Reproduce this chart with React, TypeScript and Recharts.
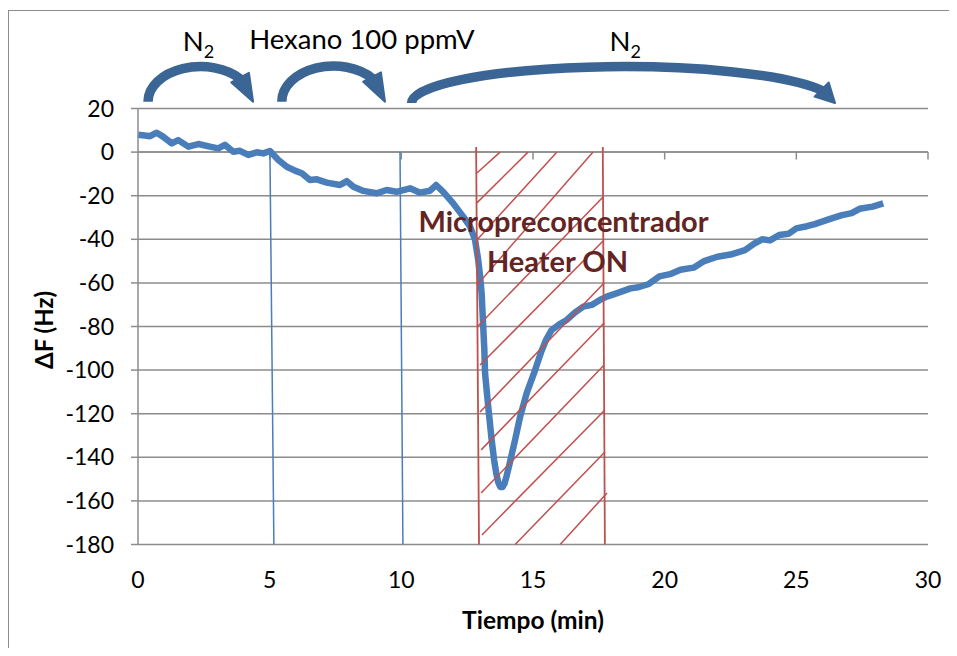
import { LineChart, Line, XAxis, YAxis, CartesianGrid, ReferenceLine, ReferenceDot } from 'recharts'

const FONT = 'Lato, "Open Sans", sans-serif'
const GRID = '#8c8c8c'
const BLUE = '#4a7ebb'
const RED = '#c0504d'
const ARROW = '#3a6594'
const DARK_RED = '#632523'

// sensor response, time in min, ΔF in Hz
const tiempo = [
  0, 0.25, 0.46, 0.71, 0.95, 1.28, 1.53, 1.91, 2.29, 2.73, 3.05, 3.3, 3.62, 3.87, 4.19, 4.51, 4.76, 5.01,
  5.33, 5.65, 5.96, 6.22, 6.53, 6.79, 7.17, 7.67, 7.93, 8.18, 8.56, 9.06, 9.44, 9.82, 10.33, 10.71, 11.09,
  11.32, 11.59, 11.97, 12.35, 12.61, 12.8, 12.92, 13.0, 13.05, 13.11, 13.15, 13.18, 13.3, 13.43, 13.52,
  13.6, 13.68, 13.76, 13.84, 13.92, 14.0, 14.1, 14.32, 14.51, 14.76, 15.08, 15.3, 15.5, 15.71, 16.0, 16.28, 16.6,
  16.91, 17.23, 17.54, 17.8, 18.17, 18.7, 19.0, 19.4, 19.8, 20.2, 20.6, 21.1, 21.5, 22.0, 22.5, 23.05,
  23.4, 23.7, 24.0, 24.35, 24.7, 25.0, 25.4, 25.7, 26.2, 26.7, 27.1, 27.4, 27.9, 28.3,
]
const deltaF = [
  8.0, 7.6, 7.3, 8.9, 7.1, 4.0, 5.5, 2.5, 3.7, 2.5, 1.7, 3.3, 0.2, 0.6, -1.3, -0.1, -0.6, 0.5,
  -3.6, -6.7, -8.5, -9.7, -12.8, -12.5, -14.0, -15.1, -13.3, -15.9, -17.8, -18.9, -17.4, -18.2, -16.6, -18.6, -17.7,
  -15.1, -18.2, -23.5, -29.6, -34.2, -40.3, -49.5, -58, -65, -80, -90, -101.5, -116.8, -132, -141,
  -147, -151.5, -153.6, -153.6, -152, -148.5, -143.5, -132, -121.4, -110.6, -100, -92, -86, -81.6, -79, -77, -73.5,
  -70.9, -70.1, -67.8, -66.3, -64.8, -62.5, -62, -60.5, -57, -56, -54, -53, -50, -48, -47, -45,
  -42, -40, -40.5, -38, -37.5, -35, -34, -33, -31, -29, -28, -26, -25, -23.5,
]

const xTicks = [0, 5, 10, 15, 20, 25, 30]
const yTicks = [20, 0, -20, -40, -60, -80, -100, -120, -140, -160, -180]

// gas switch marks: x at top (ΔF = 0) and at bottom (ΔF = -180)
const switchTop = [5.01, 9.95]
const switchBottom = [5.16, 10.06]

// heater window edges
const heaterTop = [12.84, 17.65]
const heaterBottom = [12.95, 17.73]

// hatch strokes inside the heater window: [t, ΔF] start and end
const hatchStart = [
  [12.87, -9.6], [12.87, -23.3], [12.87, -40.3], [12.87, -61], [12.87, -80.3], [12.99, -97.7],
  [12.99, -119.2], [13.03, -136.6], [13.03, -156.4], [13.06, -175.6], [14.32, -180], [16.03, -180],
]
const hatchEnd = [
  [13.75, 0], [14.81, 0], [15.91, 0], [17.28, 0], [17.66, -20.6], [17.66, -40.8],
  [17.7, -60], [17.7, -78.4], [17.7, -97.7], [17.73, -118.3], [17.73, -137.6], [17.81, -156.4],
]

// curved arrows above the plot
const arrowFrom = [0.38, 5.46, 10.39]
const arrowTo = [4.37, 9.38, 26.47]
const arrowBase = [23.1, 23.1, 22.5]
const arrowPeak = [39.2, 39.5, 39.2]

const gasText = ['N', 'Hexano 100 ppmV', 'N']
const gasSub = ['2', '', '2']
const gasT = [2.3, 8.5, 18.5]
const gasV = [46.5, 47.2, 46.5]

const noteText = ['Micropreconcentrador', 'Heater ON']
const noteT = [16.16, 15.93]
const noteV = [-36.5, -54.8]

const data = tiempo.map((t, i) => ({ t, df: deltaF[i] }))

// half-ellipse arrow from the left foot (x1,y1) to a head whose tip sits at (x2,y1); y2 is the top
function CurvedArrow(props: any) {
  const { x1, y1, x2, y2 } = props
  const h = y1 - y2
  const rx = (x2 - x1) / 2
  const cx = x1 + rx
  const ex = x2 - 12
  const c = Math.min(0.99, (ex - cx) / rx)
  const s = Math.sqrt(1 - c * c)
  const ey = y1 - h * s
  let dx = x2 - ex
  let dy = y1 - ey
  const len = Math.hypot(dx, dy)
  dx /= len
  dy /= len
  const W = 10
  const bx = ex - dx * 2
  const by = ey - dy * 2
  const pts = [
    [x2, y1],
    [bx - dy * W, by + dx * W],
    [bx + dy * W, by - dx * W],
  ]
  return (
    <g>
      <path d={`M${x1},${y1} A${rx},${h} 0 0 1 ${ex},${ey}`} fill="none" stroke={ARROW} strokeWidth={9.5} />
      <polygon points={pts.map(p => p.join(',')).join(' ')} fill={ARROW} stroke={ARROW} strokeWidth={2} strokeLinejoin="round" />
    </g>
  )
}

function App() {
  return (
    <div style={{ position: 'relative', width: 941, height: 640, overflow: 'hidden', background: '#fff' }}>
      <div
        style={{
          position: 'absolute',
          left: 0,
          top: 2,
          width: 2000,
          height: 2000,
          borderTop: `1.5px solid ${GRID}`,
          borderLeft: `1.5px solid ${GRID}`,
        }}
      />
      <LineChart
        width={941}
        height={640}
        data={data}
        margin={{ top: 100.5, right: 21, left: 0, bottom: 0 }}
        style={{ position: 'absolute', left: 0, top: 0 }}
      >
        <CartesianGrid vertical={false} stroke={GRID} strokeWidth={1.5} />
        <XAxis
          dataKey="t"
          type="number"
          domain={[0, 30]}
          ticks={xTicks}
          height={103.5}
          axisLine={false}
          tickLine={false}
          tickSize={0}
          tickMargin={27}
          tick={{ fill: '#000', fontSize: 23, fontFamily: FONT }}
          label={{
            content: () => (
              <text x={525} y={611} textAnchor="middle" dominantBaseline="central"
                fontFamily={FONT} fontWeight="bold" fontSize={24.5} fill="#000">
                Tiempo (min)
              </text>
            ),
          }}
        />
        <YAxis
          type="number"
          domain={[-180, 20]}
          ticks={yTicks}
          width={130}
          axisLine={{ stroke: GRID, strokeWidth: 1.5 }}
          tickLine={{ stroke: GRID, strokeWidth: 1.5 }}
          tickSize={7}
          tickMargin={17}
          tick={{ fill: '#000', fontSize: 23, fontFamily: FONT }}
          label={{
            content: () => (
              <text x={35} y={322} transform="rotate(-90 35 322)" textAnchor="middle" dominantBaseline="central"
                fontFamily={FONT} fontWeight="bold" fontSize={24} fill="#000">
                ΔF (Hz)
              </text>
            ),
          }}
        />
        <ReferenceLine y={0} stroke={GRID} strokeWidth={1.5} />
        {xTicks.slice(1).map(t => (
          <ReferenceLine key={'tk' + t} segment={[{ x: t, y: 0 }, { x: t, y: -3.4 }]} stroke={GRID} strokeWidth={1.5} ifOverflow="visible" />
        ))}
        <Line
          type="linear"
          dataKey="df"
          stroke={BLUE}
          strokeWidth={6.5}
          strokeLinejoin="round"
          dot={false}
          isAnimationActive={false}
        />
        {switchTop.map((t, i) => (
          <ReferenceLine key={'sw' + i} segment={[{ x: t, y: 0 }, { x: switchBottom[i], y: -180 }]} stroke={BLUE} strokeWidth={1.5} ifOverflow="visible" />
        ))}
        {heaterTop.map((t, i) => (
          <ReferenceLine key={'ht' + i} segment={[{ x: t, y: 2.3 }, { x: heaterBottom[i], y: -180 }]} stroke={RED} strokeWidth={1.8} ifOverflow="visible" />
        ))}
        {hatchStart.map((p, i) => (
          <ReferenceLine key={'hx' + i} segment={[{ x: p[0], y: p[1] }, { x: hatchEnd[i][0], y: hatchEnd[i][1] }]} stroke={RED} strokeWidth={1.5} ifOverflow="visible" />
        ))}
        {arrowFrom.map((t, i) => (
          <ReferenceLine key={'ar' + i} segment={[{ x: t, y: arrowBase[i] }, { x: arrowTo[i], y: arrowPeak[i] }]} ifOverflow="visible" shape={CurvedArrow} />
        ))}
        {gasText.map((txt, i) => (
          <ReferenceDot
            key={'gl' + i}
            x={gasT[i]}
            y={gasV[i]}
            r={0}
            ifOverflow="visible"
            shape={(p: any) => (
              <text x={p.cx} y={p.cy} textAnchor="middle" fontFamily={FONT} fontSize={27.5} fill="#000">
                {txt}
                {gasSub[i] && <tspan dy={7} fontSize={18}>{gasSub[i]}</tspan>}
              </text>
            )}
          />
        ))}
        {noteText.map((txt, i) => (
          <ReferenceDot
            key={'nt' + i}
            x={noteT[i]}
            y={noteV[i]}
            r={0}
            ifOverflow="visible"
            shape={(p: any) => (
              <text x={p.cx} y={p.cy} textAnchor="middle" fontFamily={FONT} fontWeight="bold" fontSize={29} fill={DARK_RED}>
                {txt}
              </text>
            )}
          />
        ))}
      </LineChart>
    </div>
  )
}

export default App
